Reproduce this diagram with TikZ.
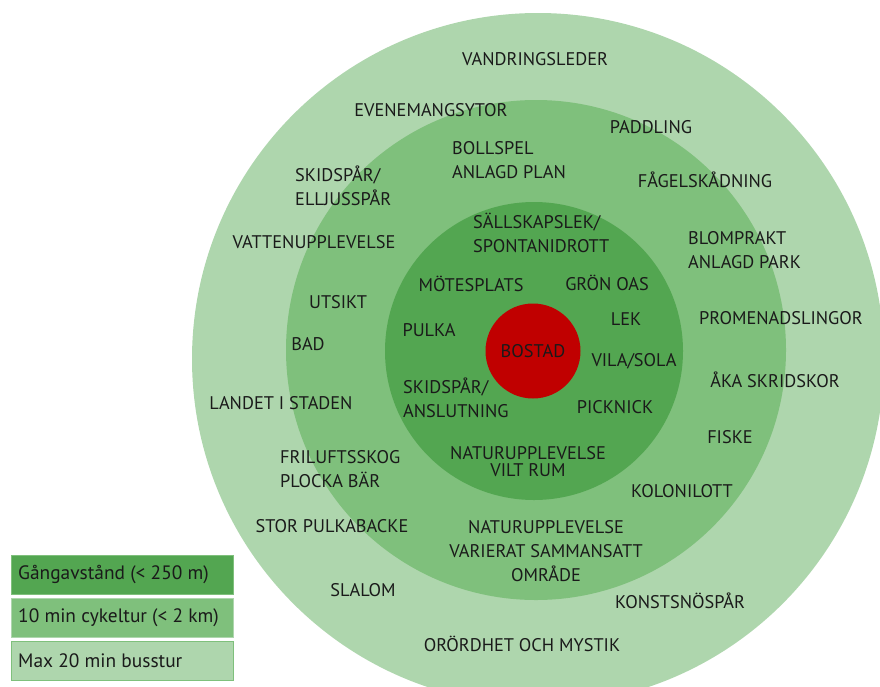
\documentclass[tikz,border=0pt]{standalone}
\usepackage{fontspec}
\setmainfont{PT Sans}
\definecolor{outerg}{HTML}{AED6AD}
\definecolor{midg}{HTML}{7FC07C}
\definecolor{innerg}{HTML}{53A651}
\definecolor{homered}{HTML}{C00000}
\definecolor{txt}{HTML}{1A1A1A}
\begin{document}
\begin{tikzpicture}[x=1pt,y=-1pt,
  ring/.style={circle,inner sep=0pt,draw=none},
  lbl/.style={inner sep=0pt,text=txt,font=\fontsize{18.3}{24}\selectfont},
  lbll/.style={lbl,align=left,anchor=west},
  lblc/.style={lbl,align=center},
  legbox/.style={draw=#1,line width=0.8pt,minimum width=222pt,minimum height=39pt,anchor=north west,inner sep=0pt},
  legtxt/.style={inner sep=0pt,anchor=west,text=txt,font=\fontsize{19.4}{22}\selectfont}]
\useasboundingbox (0,0) rectangle (880,686);
\clip (0,0) rectangle (880,686);
\node[ring,fill=outerg,minimum size=692pt] (outer) at (538,359) {};
\node[ring,fill=midg,minimum size=500pt] (middle) at (536,350) {};
\node[ring,fill=innerg,minimum size=298pt] (inner) at (534,351) {};
\node[ring,fill=homered,minimum size=95pt] (home) at (533,351) {};
\node[lbl] (bostad) at (533,351) {BOSTAD};
% outer ring
\node[lbl] (o1) at (535,59) {VANDRINGSLEDER};
\node[lbl] (o2) at (431,110) {EVENEMANGSYTOR};
\node[lbl] (o3) at (651,127) {PADDLING};
\node[lbll] (o4) at (295,186) {SKIDSPÅR/\\ELLJUSSPÅR};
\node[lbl] (o5) at (705,180) {FÅGELSKÅDNING};
\node[lbl] (o6) at (314,242) {VATTENUPPLEVELSE};
\node[lbll] (o7) at (688,250) {BLOMPRAKT\\ANLAGD PARK};
\node[lbl] (o8) at (781,318) {PROMENADSLINGOR};
\node[lbl] (o9) at (775,380) {ÅKA SKRIDSKOR};
\node[lbl] (o10) at (281,403) {LANDET I STADEN};
\node[lbl] (o11) at (730,437) {FISKE};
\node[lbl] (o12) at (332,526) {STOR PULKABACKE};
\node[lbl] (o13) at (363,590) {SLALOM};
\node[lbl] (o14) at (680,601) {KONSTSNÖSPÅR};
\node[lbl] (o15) at (522,644) {ORÖRDHET OCH MYSTIK};
% middle ring
\node[lbll] (m1) at (452,160) {BOLLSPEL\\ANLAGD PLAN};
\node[lbl] (m2) at (338,302) {UTSIKT};
\node[lbl] (m3) at (308,344) {BAD};
\node[lbll] (m4) at (280,469) {FRILUFTSSKOG\\PLOCKA BÄR};
\node[lbl] (m5) at (682,491) {KOLONILOTT};
\node[lblc] (m6) at (546,551) {NATURUPPLEVELSE\\VARIERAT SAMMANSATT\\OMRÅDE};
% inner ring
\node[lbll] (i1) at (473,233) {SÄLLSKAPSLEK/\\SPONTANIDROTT};
\node[lbl] (i2) at (471,284) {MÖTESPLATS};
\node[lbl] (i3) at (607,283) {GRÖN OAS};
\node[lbl] (i4) at (626,319) {LEK};
\node[lbl] (i5) at (429,330) {PULKA};
\node[lbl] (i6) at (634,361) {VILA/SOLA};
\node[lbll] (i7) at (403,398) {SKIDSPÅR/\\ANSLUTNING};
\node[lbl] (i8) at (615,407) {PICKNICK};
\node[lblc,font=\fontsize{18.3}{17}\selectfont] (i9) at (528,462) {NATURUPPLEVELSE\\VILT RUM};
% legend
\node[legbox=midg,fill=innerg] (lg1) at (11,555) {};
\node[legbox=outerg,fill=midg] (lg2) at (11,598) {};
\node[legbox=midg,fill=outerg] (lg3) at (11,641) {};
\node[legtxt] (lt1) at (18,575) {Gångavstånd (< 250 m)};
\node[legtxt] (lt2) at (18,618) {10 min cykeltur (< 2 km)};
\node[legtxt] (lt3) at (18,661) {Max 20 min busstur};
\end{tikzpicture}
\end{document}
